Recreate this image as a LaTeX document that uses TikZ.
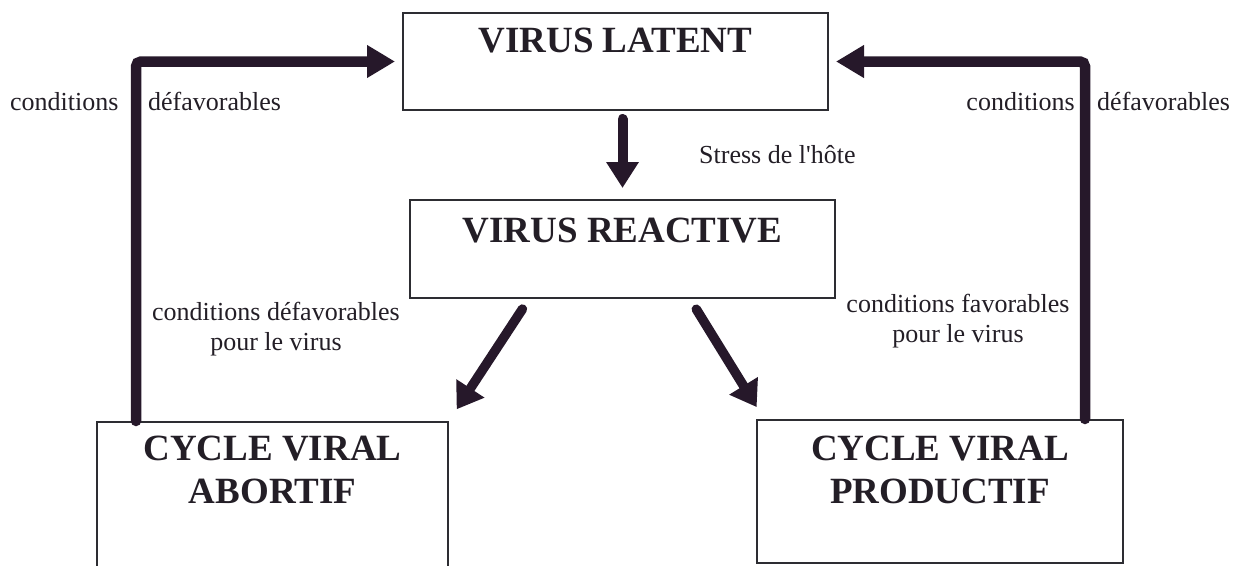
\documentclass[tikz,border=0pt]{standalone}
\usepackage{fontspec}
\setmainfont{Liberation Serif}
\usetikzlibrary{arrows.meta}
\definecolor{ink}{RGB}{38,24,42}
\definecolor{txt}{RGB}{35,30,38}
\definecolor{frame}{RGB}{45,45,50}
\tikzset{
  box/.style={draw=frame, line width=2pt, rectangle, inner sep=0pt},
  title/.style={text=txt, inner sep=0pt, align=center, font=\fontsize{37}{43}\selectfont\bfseries},
  lbl/.style={text=txt, inner sep=0pt, align=center, font=\fontsize{26}{30}\selectfont},
  bigarrow/.style={draw=ink, line width=10.5pt, line cap=round, rounded corners=5pt,
    -{Triangle[length=28pt,width=31pt]}},
  downarrow/.style={draw=ink, line width=10pt, line cap=round,
    -{Triangle[length=26pt,width=31pt]}},
  diagarrow/.style={draw=ink, line width=9.5pt, line cap=round,
    -{Triangle[length=25pt,width=32pt]}}
}
\begin{document}
\begin{tikzpicture}[x=1pt,y=-1pt]
\useasboundingbox (0,0) rectangle (1236,565);
% boxes
\node[box, minimum width=425pt, minimum height=97pt] (lat) at (615.5,61.5) {};
\node[box, minimum width=425pt, minimum height=98pt] (rea) at (622.5,249) {};
\node[box, minimum width=351pt, minimum height=156pt] (abo) at (272.5,500) {};
\node[box, minimum width=366pt, minimum height=143pt] (pro) at (940,491.5) {};
% titles
\node[title, anchor=base] (tlat) at (615.5,52) {VIRUS LATENT};
\node[title, anchor=base] (trea) at (622.5,242) {VIRUS REACTIVE};
\node[title, anchor=base] (tabo1) at (272.5,460) {CYCLE VIRAL};
\node[title, anchor=base] (tabo2) at (272.5,503) {ABORTIF};
\node[title, anchor=base] (tpro1) at (940,460) {CYCLE VIRAL};
\node[title, anchor=base] (tpro2) at (940,503) {PRODUCTIF};
% labels
\node[lbl, anchor=base west] (lc) at (10,110) {conditions};
\node[lbl, anchor=base west] (ld) at (148,110) {défavorables};
\node[lbl, anchor=base east] (rc) at (1075,110) {conditions};
\node[lbl, anchor=base west] (rd) at (1097,110) {défavorables};
\node[lbl, anchor=base west] (st) at (699,163) {Stress de l\textquotesingle hôte};
\node[lbl, anchor=base] (cd1) at (276,320) {conditions défavorables};
\node[lbl, anchor=base] (cd2) at (276,350) {pour le virus};
\node[lbl, anchor=base] (cf1) at (958,312) {conditions favorables};
\node[lbl, anchor=base] (cf2) at (958,342) {pour le virus};
% connectors
\draw[bigarrow, shorten >=7pt] ([xshift=40pt]abo.north west) |- (lat.west);
\draw[bigarrow, shorten >=7pt] ([xshift=-39pt]pro.north east) |- (lat.east);
\draw[downarrow, shorten <=8pt, shorten >=11pt] (lat.south -| rea.north) -- (rea.north);
\draw[diagarrow, shorten <=12pt, shorten >=14pt] ([xshift=120pt]rea.south west) -- (abo.north east);
\draw[diagarrow, shorten <=12pt, shorten >=14pt] ([xshift=281pt]rea.south west) -- ([xshift=8pt]pro.north west);
\end{tikzpicture}
\end{document}
